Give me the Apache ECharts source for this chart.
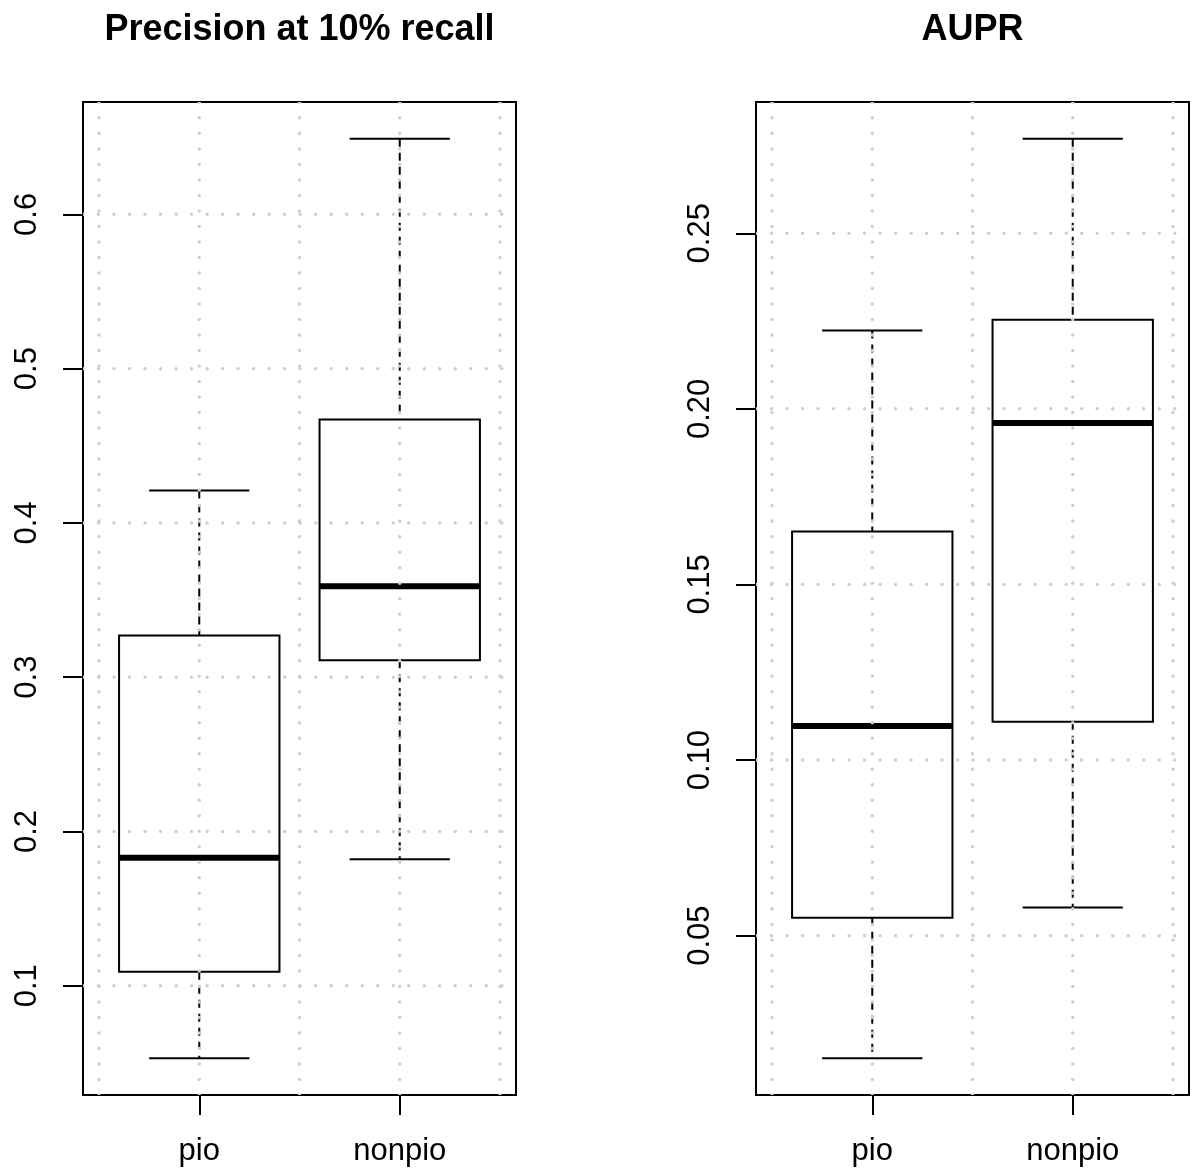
<!DOCTYPE html>
<html><head><meta charset="utf-8">
<script src="https://cdn.jsdelivr.net/npm/echarts@6/dist/echarts.min.js"></script>
<style>html,body{margin:0;padding:0;background:#fff}#c{width:1197px;height:1171px}</style>
</head><body><div id="c"></div>
<script>
// ---- data ----
const categories = ['pio', 'nonpio'];
// [lower whisker, Q1, median, Q3, upper whisker]
const precisionPio    = [0.053, 0.109, 0.183, 0.327, 0.421];
const precisionNonpio = [0.182, 0.311, 0.359, 0.467, 0.649];
const auprPio    = [0.0151, 0.0551, 0.1097, 0.1651, 0.2223];
const auprNonpio = [0.058, 0.1109, 0.196, 0.2254, 0.2769];
const precisionTicks = [0.1, 0.2, 0.3, 0.4, 0.5, 0.6];
const precisionTickLabels = ['0.1', '0.2', '0.3', '0.4', '0.5', '0.6'];
const auprTicks = [0.05, 0.10, 0.15, 0.20, 0.25];
const auprTickLabels = ['0.05', '0.10', '0.15', '0.20', '0.25'];
const xGridValues = [0.5, 1, 1.5, 2, 2.5];
const titles = ['Precision at 10% recall', 'AUPR'];

const FONT = '"Liberation Sans", Arial, Helvetica, sans-serif';
const X_MIN = 0.42, X_MAX = 2.58;

function extent(a, b) {
  const lo = Math.min(a[0], b[0]), hi = Math.max(a[4], b[4]);
  const pad = 0.04 * (hi - lo);
  return [lo - pad, hi + pad];
}
const ext0 = extent(precisionPio, precisionNonpio);
const ext1 = extent(auprPio, auprNonpio);

const panels = [
  { left: 83, ext: ext0, ticks: precisionTicks, labels: precisionTickLabels, data: [precisionPio, precisionNonpio] },
  { left: 756, ext: ext1, ticks: auprTicks, labels: auprTickLabels, data: [auprPio, auprNonpio] }
];

const grids = [], xAxes = [], yAxes = [], series = [], titleOpts = [];
panels.forEach((p, i) => {
  grids.push({ left: p.left, top: 102, width: 433, height: 993, show: true,
    borderColor: '#000', borderWidth: 2, backgroundColor: 'transparent', containLabel: false });
  titleOpts.push({ text: titles[i], left: p.left + 216.5, top: 12, textAlign: 'center', padding: 0,
    textStyle: { fontFamily: FONT, fontSize: 36, fontWeight: 'bold', color: '#000' } });
  xAxes.push({ type: 'value', gridIndex: i, min: X_MIN, max: X_MAX,
    axisLine: { show: false }, splitLine: { show: false },
    axisTick: { show: true, length: 20, inside: false, customValues: [1, 2], lineStyle: { color: '#000', width: 2 } },
    axisLabel: { show: true, customValues: [1, 2], margin: 41, formatter: v => categories[Math.round(v) - 1],
      fontFamily: FONT, fontSize: 31, color: '#000' } });
  yAxes.push({ type: 'value', gridIndex: i, min: p.ext[0], max: p.ext[1],
    axisLine: { show: false }, splitLine: { show: false },
    axisTick: { show: true, length: 20, customValues: p.ticks, lineStyle: { color: '#000', width: 2 } },
    axisLabel: { show: true, customValues: p.ticks, rotate: 90, margin: 40,
      formatter: v => { const k = p.ticks.findIndex(t => Math.abs(t - v) < 1e-9); return k >= 0 ? p.labels[k] : ''; },
      fontFamily: FONT, fontSize: 31, color: '#000' } });

  // boxes
  series.push({
    type: 'custom', xAxisIndex: i, yAxisIndex: i, z: 2, clip: false,
    data: p.data.map((d, k) => [k + 1].concat(d)),
    renderItem: (params, api) => {
      const x = api.value(0);
      const lo = api.value(1), q1 = api.value(2), md = api.value(3), q3 = api.value(4), hi = api.value(5);
      const bw = 0.4, cw = 0.25;
      const pL = api.coord([x - bw, q3]), pR = api.coord([x + bw, q1]);
      const c = (xx, yy) => api.coord([xx, yy]);
      const black = { stroke: '#000', fill: null, lineWidth: 2 };
      const dashed = { stroke: '#000', lineWidth: 2, lineDash: [8, 6] };
      const line = (a, b, st) => ({ type: 'line', shape: { x1: a[0], y1: a[1], x2: b[0], y2: b[1] }, style: st });
      return { type: 'group', children: [
        line(c(x, hi), c(x, q3), dashed),
        line(c(x, q1), c(x, lo), dashed),
        line(c(x - cw, hi), c(x + cw, hi), black),
        line(c(x - cw, lo), c(x + cw, lo), black),
        { type: 'rect', shape: { x: pL[0], y: pL[1], width: pR[0] - pL[0], height: pR[1] - pL[1] },
          style: { stroke: '#000', fill: 'transparent', lineWidth: 2 } },
        line(c(x - bw, md), c(x + bw, md), { stroke: '#000', lineWidth: 6 })
      ] };
    }
  });

  // dotted grid (drawn through the axes' scales)
  const gridData = xGridValues.map(v => [0, v]).concat(p.ticks.map(v => [1, v]));
  series.push({
    type: 'custom', xAxisIndex: i, yAxisIndex: i, z: 3, clip: true, silent: true,
    data: gridData,
    renderItem: (params, api) => {
      const kind = api.value(0), v = api.value(1);
      let a, b;
      if (kind === 0) { a = api.coord([v, p.ext[0]]); b = api.coord([v, p.ext[1]]); }
      else { a = api.coord([X_MIN, v]); b = api.coord([X_MAX, v]); }
      return { type: 'line', shape: { x1: a[0], y1: a[1], x2: b[0], y2: b[1] },
        style: { stroke: '#cfcfcf', lineWidth: 3.5, lineCap: 'round', lineDash: [0.01, 15.5] } };
    }
  });
});

const chart = echarts.init(document.getElementById('c'), null, { renderer: 'canvas' });
chart.setOption({
  animation: false,
  backgroundColor: '#fff',
  title: titleOpts,
  grid: grids,
  xAxis: xAxes,
  yAxis: yAxes,
  series: series
});
</script></body></html>
